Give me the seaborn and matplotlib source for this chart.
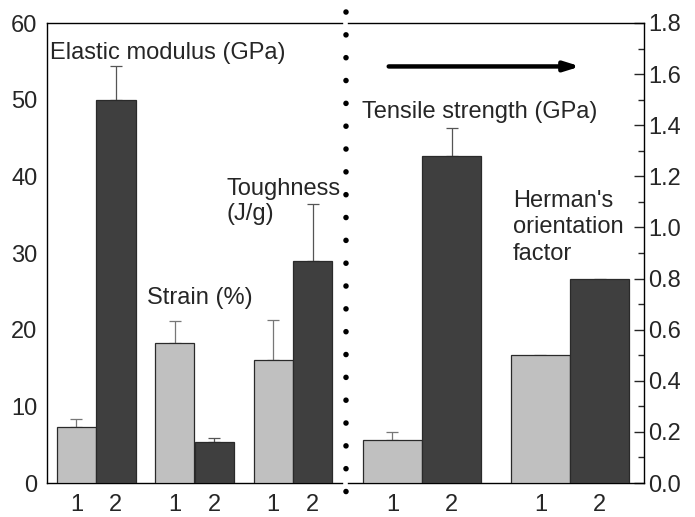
import numpy as np
import pandas as pd
import seaborn as sns
import matplotlib.pyplot as plt
from matplotlib.lines import Line2D
from matplotlib.ticker import MultipleLocator, FixedLocator

sns.set_style("white")
plt.rcParams["font.family"] = ["Liberation Sans", "DejaVu Sans"]

# data
samples = ["1", "2"]
left_groups = ["Elastic modulus", "Strain", "Toughness"]
left_s1 = [7.3, 18.3, 16.1]
left_s1_err = [1.0, 2.8, 5.1]
left_s2 = [50.0, 5.3, 28.9]
left_s2_err = [4.4, 0.6, 7.5]

right_groups = ["Tensile strength", "Herman's orientation factor"]
right_s1 = [0.17, 0.50]
right_s1_err = [0.03, np.nan]
right_s2 = [1.28, 0.80]
right_s2_err = [0.11, np.nan]

left_yticks = [0, 10, 20, 30, 40, 50, 60]
right_yticks = [0.0, 0.2, 0.4, 0.6, 0.8, 1.0, 1.2, 1.4, 1.6, 1.8]

light = "#c0c0c0"
dark = "#3f3f3f"
edge = "#2a2a2a"
fs = 17


def make_df(groups, s1, s2):
    return pd.DataFrame({
        "group": groups * 2,
        "sample": [samples[0]] * len(groups) + [samples[1]] * len(groups),
        "value": list(s1) + list(s2),
    })


def draw_panel(ax, groups, s1, s2, e1, e2):
    df = make_df(groups, s1, s2)
    sns.barplot(data=df, x="group", y="value", hue="sample", order=groups,
                hue_order=samples, palette=[light, dark], width=0.8,
                edgecolor=edge, linewidth=0.9, saturation=1, legend=False,
                ax=ax, zorder=3)
    centers = []
    for cont, errs, col in zip(ax.containers, [e1, e2], ["#777777", "#555555"]):
        xs = [b.get_x() + b.get_width() / 2 for b in cont]
        hs = [b.get_height() for b in cont]
        centers += xs
        errs = np.array(errs, dtype=float)
        ax.errorbar(xs, hs, yerr=[np.zeros_like(errs), errs], fmt="none",
                    ecolor=col, elinewidth=0.9, capsize=4.5, capthick=0.9,
                    zorder=2)
    centers = sorted(centers)
    ax.set_xticks(centers)
    ax.set_xticklabels(samples * len(groups))
    n = len(groups)
    ax.set_xlim(-0.5, n - 0.5)
    ax.xaxis.set_minor_locator(FixedLocator(np.arange(-0.5, n, 1.0)))
    ax.tick_params(axis="x", which="major", length=0, pad=8, labelsize=fs)
    ax.tick_params(axis="x", which="minor", direction="in", length=5, width=1)
    ax.set_xlabel("")
    ax.set_ylabel("")
    for s in ax.spines.values():
        s.set_linewidth(1.0)
        s.set_color("black")


fig = plt.figure(figsize=(6.95, 5.17), dpi=100)
ax1 = fig.add_axes([47 / 695, 34 / 517, 295 / 695, 460 / 517])
ax2 = fig.add_axes([348 / 695, 34 / 517, 296 / 695, 460 / 517])

draw_panel(ax1, left_groups, left_s1, left_s2, left_s1_err, left_s2_err)
draw_panel(ax2, right_groups, right_s1, right_s2, right_s1_err, right_s2_err)

ax1.set_ylim(0, 60)
ax1.set_yticks(left_yticks)
ax1.yaxis.set_minor_locator(MultipleLocator(5))
ax1.tick_params(axis="y", which="major", direction="in", length=7, width=1,
                pad=7, labelsize=fs)
ax1.tick_params(axis="y", which="minor", direction="in", length=4.5, width=1)
ax1.spines["right"].set_visible(False)

ax2.set_ylim(0, 1.8)
ax2.yaxis.tick_right()
ax2.set_yticks(right_yticks)
ax2.set_yticklabels([f"{v:.1f}" for v in right_yticks])
ax2.yaxis.set_minor_locator(MultipleLocator(0.1))
ax2.tick_params(axis="y", which="major", direction="in", length=7, width=1,
                pad=3, labelsize=fs)
ax2.tick_params(axis="y", which="minor", direction="in", length=4.5, width=1)
ax2.spines["left"].set_visible(False)

# labels
ax1.text(-0.47, 56.1, "Elastic modulus (GPa)", fontsize=fs, va="center", ha="left")
ax1.text(0.52, 24.1, "Strain (%)", fontsize=fs, va="center", ha="left")
ax1.text(1.33, 36.7, "Toughness\n(J/g)", fontsize=fs, va="center", ha="left",
         linespacing=1.2)
ax2.text(-0.405, 1.452, "Tensile strength (GPa)", fontsize=fs, va="center", ha="left")
ax2.text(0.615, 1.0, "Herman's\norientation\nfactor", fontsize=fs, va="center",
         ha="left", linespacing=1.25)

ax2.annotate("", xy=(1.07, 1.63), xytext=(-0.225, 1.63),
             arrowprops=dict(arrowstyle="-|>,head_length=0.9,head_width=0.28",
                             color="black", lw=3.2, shrinkA=0, shrinkB=0))

# dotted divider
fig.add_artist(Line2D([346 / 695, 346 / 695], [1 - 12 / 517, 1 - 500 / 517],
                      transform=fig.transFigure, color="black", lw=4.0,
                      linestyle=(0, (0.01, 4.1)), dash_capstyle="round"))

fig.savefig("out.png", dpi=100)
